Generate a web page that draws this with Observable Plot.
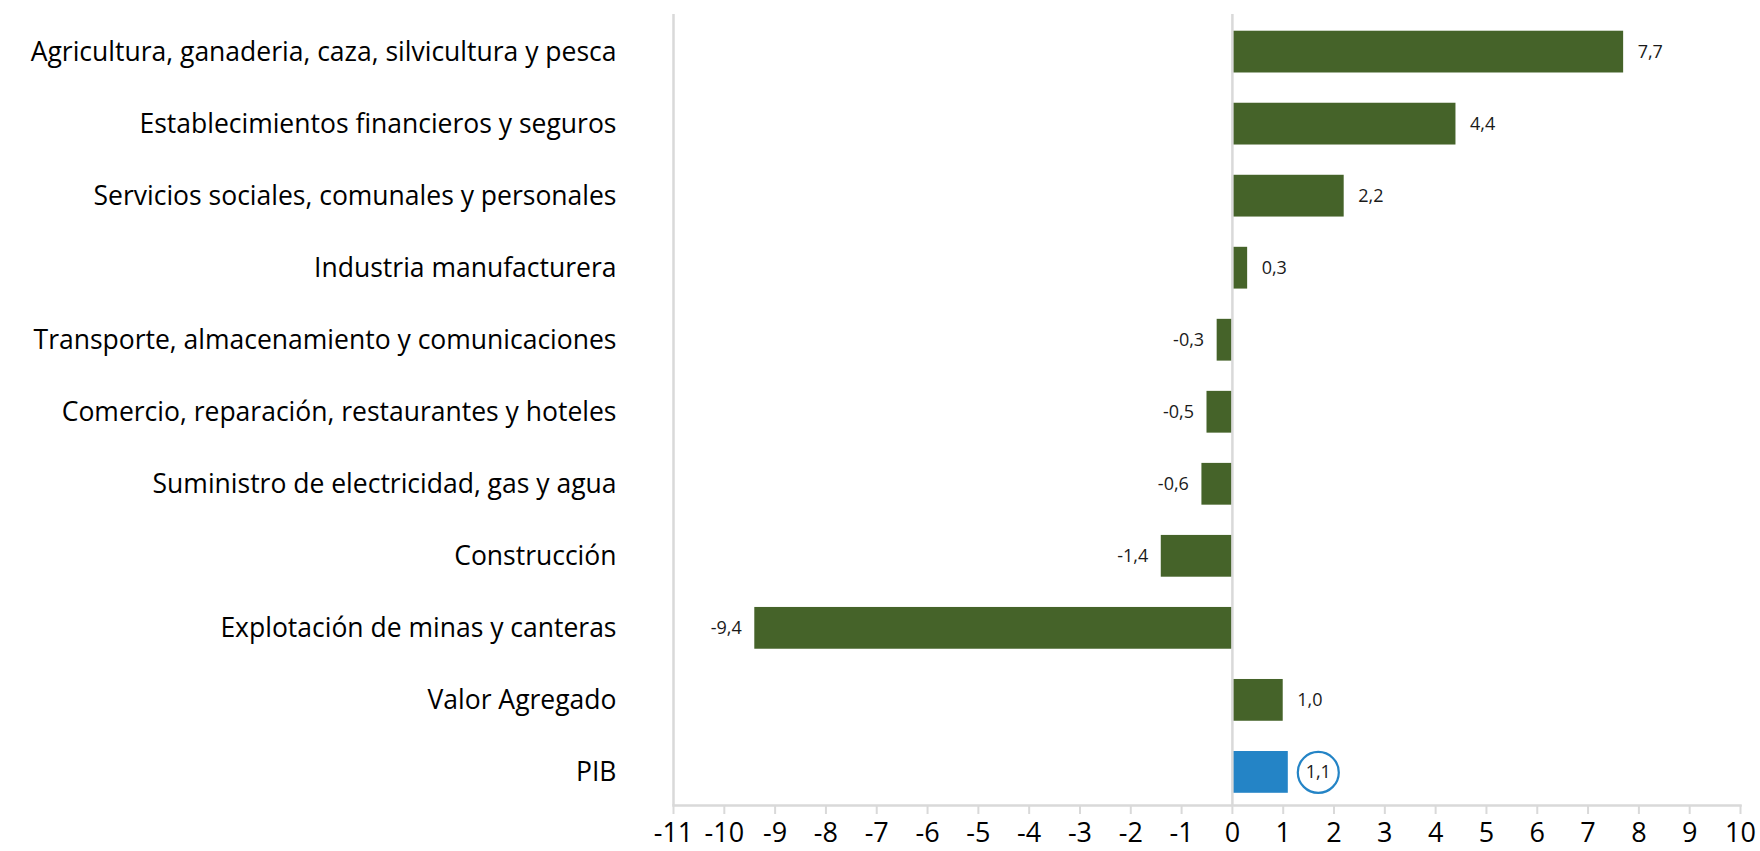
<!DOCTYPE html>
<html>
<head>
<meta charset="utf-8">
<script src="https://cdn.jsdelivr.net/npm/d3@7"></script>
<script src="https://cdn.jsdelivr.net/npm/@observablehq/plot@0.6"></script>
<style>
  html, body { margin: 0; padding: 0; background: #fff; }
  #chart { width: 1760px; height: 851px; }
</style>
</head>
<body>
<div id="chart"></div>
<script>
const categories = [
  "Agricultura, ganaderia, caza, silvicultura y pesca",
  "Establecimientos financieros y seguros",
  "Servicios sociales, comunales y personales",
  "Industria manufacturera",
  "Transporte, almacenamiento y comunicaciones",
  "Comercio, reparación, restaurantes y hoteles",
  "Suministro de electricidad, gas y agua",
  "Construcción",
  "Explotación de minas y canteras",
  "Valor Agregado",
  "PIB"
];
const values = [7.7, 4.4, 2.2, 0.3, -0.3, -0.5, -0.6, -1.4, -9.4, 1.0, 1.1];
const highlighted = ["PIB"];
const xTicks = d3.range(-11, 11);

const GREEN = "#456329";
const BLUE = "#2484c6";
const GRID = "#d9d9d9";

const data = categories.map((c, i) => ({category: c, value: values[i]}));
const hl = data.filter(d => highlighted.includes(d.category));
const fmt = v => v.toFixed(1).replace(".", ",");

const chart = Plot.plot({
  width: 1760,
  height: 851,
  marginLeft: 673,
  marginRight: 20,
  marginTop: 14,
  marginBottom: 46,
  style: {fontFamily: "'Open Sans', sans-serif", fontSize: "26px", color: "#000", background: "#fff"},
  x: {domain: [-11, 10], ticks: xTicks, tickFormat: d => String(d)},
  y: {domain: categories, paddingInner: 0.42, paddingOuter: 0.232, round: false, insetBottom: -4.5},
  marks: [
    Plot.barX(data, {
      x: "value", y: "category",
      fill: d => highlighted.includes(d.category) ? BLUE : GREEN
    }),
    Plot.ruleX([-11, 0], {stroke: GRID, strokeWidth: 2.5}),
    Plot.frame({anchor: "bottom", stroke: GRID, strokeWidth: 2.5}),
    Plot.axisY({tickSize: 0, tickPadding: 57, fontSize: 26.5, fill: "#000", label: null}),
    Plot.axisX({ticks: xTicks, tickFormat: d => String(d), tickSize: 9, tickPadding: 8,
      stroke: GRID, strokeWidth: 2, fill: "#000", fontSize: 27, label: null}),
    Plot.text(data.filter(d => d.value >= 0 && !highlighted.includes(d.category)), {
      x: "value", y: "category", text: d => fmt(d.value),
      textAnchor: "start", dx: 14, fontSize: 18, fill: "#1a1a1a"
    }),
    Plot.text(data.filter(d => d.value < 0), {
      x: "value", y: "category", text: d => fmt(d.value),
      textAnchor: "end", dx: -13, fontSize: 18, fill: "#1a1a1a"
    }),
    Plot.dot(hl, {x: "value", y: "category", r: 20.5, dx: 30, fill: "#fff", stroke: BLUE, strokeWidth: 2.2}),
    Plot.text(hl, {
      x: "value", y: "category", text: d => fmt(d.value),
      textAnchor: "middle", dx: 30, fontSize: 18, fill: "#1a1a1a"
    })
  ]
});
document.getElementById("chart").appendChild(chart);
</script>
</body>
</html>
